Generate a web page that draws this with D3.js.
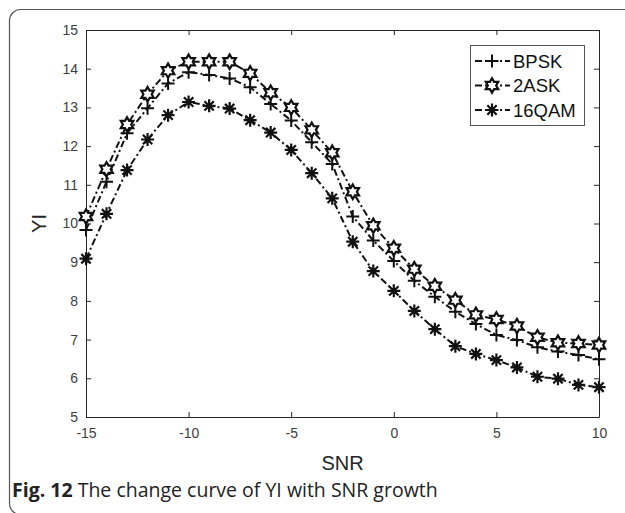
<!DOCTYPE html>
<html>
<head>
<meta charset="utf-8">
<script src="https://cdn.jsdelivr.net/npm/d3@7"></script>
<style>
  html, body { margin: 0; padding: 0; background: #fff; }
  svg { display: block; }
</style>
</head>
<body>
<div id="chart"></div>
<script>
var snr = [-15, -14, -13, -12, -11, -10, -9, -8, -7, -6, -5, -4, -3, -2, -1, 0, 1, 2, 3, 4, 5, 6, 7, 8, 9, 10];

var bpsk = [9.83, 11.08, 12.33, 12.98, 13.62, 13.91, 13.84, 13.75, 13.52, 13.09, 12.66, 12.10, 11.54,
  10.18, 9.56, 9.03, 8.52, 8.11, 7.72, 7.40, 7.12, 6.99, 6.80, 6.69, 6.60, 6.49];
var ask2 = [10.18, 11.40, 12.56, 13.34, 13.95, 14.18, 14.18, 14.18, 13.88, 13.38, 13.00, 12.42, 11.83,
  10.82, 9.94, 9.36, 8.82, 8.38, 8.02, 7.64, 7.52, 7.35, 7.06, 6.92, 6.90, 6.86];
var qam16 = [9.09, 10.25, 11.38, 12.17, 12.80, 13.14, 13.04, 12.97, 12.67, 12.35, 11.90, 11.30, 10.65,
  9.53, 8.77, 8.26, 7.74, 7.27, 6.83, 6.63, 6.47, 6.28, 6.04, 5.99, 5.83, 5.77];

var xTicks = [-15, -10, -5, 0, 5, 10];
var yTicks = [5, 6, 7, 8, 9, 10, 11, 12, 13, 14, 15];

var seriesNames = ['BPSK', '2ASK', '16QAM'];
var seriesMarks = ['plus', 'hexagram', 'asterisk'];
var seriesValues = [bpsk, ask2, qam16];

var W = 625, H = 513;
var plot = { left: 86, right: 599, top: 30, bottom: 417 };
var axisColor = '#262626';
var sans = 'Liberation Sans, Arial, sans-serif';

var svg = d3.select('#chart').append('svg')
  .attr('width', W)
  .attr('height', H);

// outer figure frame
svg.append('rect')
  .attr('x', 9.5).attr('y', 9.5)
  .attr('width', 700).attr('height', 505)
  .attr('rx', 11).attr('ry', 11)
  .attr('fill', 'none')
  .attr('stroke', '#555')
  .attr('stroke-width', 1.2);

var x = d3.scaleLinear().domain([-15, 10]).range([plot.left, plot.right]);
var y = d3.scaleLinear().domain([5, 15]).range([plot.bottom, plot.top]);

var plain = function(d) { return String(d); };

// axes, matlab style box with inward ticks
var g = svg.append('g');

g.append('g')
  .attr('transform', 'translate(0,' + plot.bottom + ')')
  .call(d3.axisBottom(x).tickValues(xTicks).tickFormat(plain)
    .tickSizeInner(-5).tickSizeOuter(0).tickPadding(11));
g.append('g')
  .attr('transform', 'translate(0,' + plot.top + ')')
  .call(d3.axisTop(x).tickValues(xTicks).tickSizeInner(-5).tickSizeOuter(0).tickFormat(''));
g.append('g')
  .attr('transform', 'translate(' + plot.left + ',0)')
  .call(d3.axisLeft(y).tickValues(yTicks).tickFormat(plain)
    .tickSizeInner(-5).tickSizeOuter(0).tickPadding(8));
g.append('g')
  .attr('transform', 'translate(' + plot.right + ',0)')
  .call(d3.axisRight(y).tickValues(yTicks).tickSizeInner(-5).tickSizeOuter(0).tickFormat(''));

g.selectAll('.domain').attr('stroke', axisColor).attr('stroke-width', 1);
g.selectAll('.tick line').attr('stroke', axisColor).attr('stroke-width', 1);
g.selectAll('.tick text')
  .attr('fill', '#404040')
  .style('font-family', sans)
  .style('font-size', '14px');

// axis titles
svg.append('text')
  .attr('x', (plot.left + plot.right) / 2)
  .attr('y', 470)
  .attr('text-anchor', 'middle')
  .attr('fill', '#262626')
  .style('font-family', sans)
  .style('font-size', '20px')
  .text('SNR');

svg.append('text')
  .attr('transform', 'translate(46,' + ((plot.top + plot.bottom) / 2) + ') rotate(-90)')
  .attr('text-anchor', 'middle')
  .attr('fill', '#262626')
  .style('font-family', sans)
  .style('font-size', '20px')
  .text('YI');

// markers
function hexagramPath(r) {
  var pts = [];
  for (var i = 0; i < 12; i++) {
    var a = -Math.PI / 2 + i * Math.PI / 6;
    var rr = i % 2 === 0 ? r : r / Math.sqrt(3);
    pts.push([rr * Math.cos(a), rr * Math.sin(a)]);
  }
  return 'M' + pts.map(function(p) { return p[0].toFixed(2) + ',' + p[1].toFixed(2); }).join('L') + 'Z';
}

function drawMarker(sel, kind) {
  if (kind === 'plus') {
    sel.append('path').attr('d', 'M-6.5,0H6.5M0,-6.5V6.5')
      .attr('stroke', '#111').attr('stroke-width', 2).attr('fill', 'none');
  } else if (kind === 'hexagram') {
    sel.append('path').attr('d', hexagramPath(7.2))
      .attr('stroke', '#111').attr('stroke-width', 2.2).attr('fill', '#fff')
      .attr('stroke-linejoin', 'miter');
  } else {
    var r = 6.5, d = r * 0.72;
    sel.append('path')
      .attr('d', 'M-' + r + ',0H' + r + 'M0,-' + r + 'V' + r +
        'M-' + d + ',-' + d + 'L' + d + ',' + d + 'M-' + d + ',' + d + 'L' + d + ',-' + d)
      .attr('stroke', '#111').attr('stroke-width', 2.2).attr('fill', 'none');
  }
}

var line = d3.line()
  .x(function(d) { return x(d[0]); })
  .y(function(d) { return y(d[1]); });

seriesValues.forEach(function(vals, si) {
  var pts = snr.map(function(s, i) { return [s, vals[i]]; });

  svg.append('path')
    .datum(pts)
    .attr('d', line)
    .attr('fill', 'none')
    .attr('stroke', '#111')
    .attr('stroke-width', 2)
    .attr('stroke-dasharray', '7,3,2,3');

  svg.append('g').selectAll('g')
    .data(pts)
    .enter().append('g')
    .attr('transform', function(d) { return 'translate(' + x(d[0]) + ',' + y(d[1]) + ')'; })
    .each(function() { drawMarker(d3.select(this), seriesMarks[si]); });
});

// legend
var legend = svg.append('g');
legend.append('rect')
  .attr('x', 470.5).attr('y', 45.5)
  .attr('width', 114).attr('height', 80)
  .attr('fill', '#fff')
  .attr('stroke', '#555')
  .attr('stroke-width', 1);

var rows = legend.selectAll('g.row')
  .data(seriesNames)
  .enter().append('g')
  .attr('class', 'row')
  .attr('transform', function(d, i) { return 'translate(0,' + (61 + i * 24.5) + ')'; });

rows.append('line')
  .attr('x1', 475).attr('x2', 510)
  .attr('y1', 0).attr('y2', 0)
  .attr('stroke', '#111')
  .attr('stroke-width', 2)
  .attr('stroke-dasharray', '7,3,2,3');

rows.append('g')
  .attr('transform', 'translate(492,0)')
  .each(function(d, i) { drawMarker(d3.select(this), seriesMarks[i]); });

rows.append('text')
  .attr('x', 513)
  .attr('y', 6.5)
  .attr('fill', '#111')
  .style('font-family', sans)
  .style('font-size', '18.5px')
  .text(function(d) { return d; });

// caption
var cap = svg.append('text')
  .attr('x', 12)
  .attr('y', 497)
  .attr('fill', '#222')
  .style('font-family', 'Open Sans, Noto Sans, sans-serif')
  .style('font-size', '19.5px');
cap.append('tspan').style('font-weight', 'bold').text('Fig. 12');
cap.append('tspan').text(' The change curve of YI with SNR growth');
</script>
</body>
</html>
